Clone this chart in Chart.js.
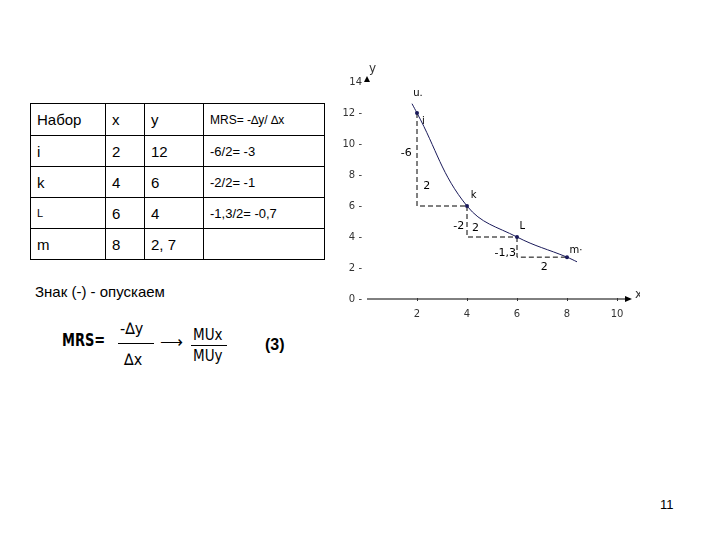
<!DOCTYPE html>
<html><head><meta charset="utf-8">
<script src="https://cdn.jsdelivr.net/npm/chart.js@4"></script>
<style>
body{margin:0;width:720px;height:540px;background:#fff;position:relative;font-family:"Liberation Sans",Arial,sans-serif;overflow:hidden}
table{position:absolute;left:30px;top:103px;border-collapse:collapse;font-size:15px}
td{border:1px solid #000;height:30px;padding:0 6px;}
.t{position:absolute;white-space:nowrap}
#cw{position:absolute;left:340px;top:50px;width:300px;height:270px}
</style></head><body>
<table id="tb"></table>
<div class="t" style="left:35px;top:283px;font-size:15px">Знак (-) - опускаем</div>
<div class="t" style="left:62px;top:330px;font-size:17px;font-weight:bold;font-family:'DejaVu Sans Condensed';transform:scaleX(0.85);transform-origin:left">MRS=</div>
<div class="t" style="left:120px;top:319px;font-size:16px;font-family:'DejaVu Sans Condensed'">-∆y</div>
<div class="t" style="left:124px;top:350px;font-size:16px;font-family:'DejaVu Sans Condensed'">∆x</div>
<div style="position:absolute;left:118px;top:343px;width:36px;border-top:1px solid #000"></div>
<div class="t" style="left:160px;top:332px;font-size:16px">⟶</div>
<div class="t" style="left:193px;top:326px;font-size:15px;font-family:'DejaVu Sans Condensed'">MUx</div>
<div class="t" style="left:193px;top:347px;font-size:15px;font-family:'DejaVu Sans Condensed'">MUy</div>
<div style="position:absolute;left:191px;top:345px;width:36px;border-top:1px solid #000"></div>
<div class="t" style="left:265px;top:336px;font-size:16px;font-weight:bold">(3)</div>
<div class="t" style="left:660px;top:497px;font-size:13px">11</div>
<div id="cw"><canvas id="c"></canvas></div>
<script>
const headers=["Набор","x","y","MRS= -∆y/ ∆x"];
const sets=["i","k","L","m"];
const xs=[2,4,6,8];
const ys=[12,6,4,2.7];
const mrs=["-6/2= -3","-2/2= -1","-1,3/2= -0,7",""];
const curveX=[1.8,2,4,6,8,8.4];
const curveY=[12.6,12,6,4,2.7,2.4];
const xTicks=[2,4,6,8,10];
const yTicks=[0,2,4,6,8,10,12,14];
const pointLabels=["u.","k","L","m·"];
const stepLabels=[["-6",1.35,9.2],["2",2.25,7.1],["-2",3.45,4.5],["2",4.2,4.4],["-1,3",5.1,2.8],["2",6.95,1.9]];
const tb=document.getElementById('tb');
let h='<tr>'+headers.map((v,i)=>`<td style="width:${[62,26,46,108][i]}px;height:31px;${i==3?'font-size:12px':''}">${v}</td>`).join('')+'</tr>';
sets.forEach((s,i)=>{h+=`<tr><td style="${s=='L'?'font-size:11px':''}">${s}</td><td>${xs[i]}</td><td>${String(ys[i]).replace('.',', ')}</td><td style="font-size:13px">${mrs[i]}</td></tr>`});
tb.innerHTML=h;
const dash=[];
for(let i=0;i<3;i++){dash.push({type:'line',data:[{x:xs[i],y:ys[i]},{x:xs[i],y:ys[i+1]},{x:xs[i+1],y:ys[i+1]}],borderColor:'#000',borderWidth:1,borderDash:[5,3],pointRadius:0,tension:0});}
const deco={id:'deco',afterDraw(c){const g=c.ctx,X=c.scales.x,Y=c.scales.y;g.save();g.strokeStyle='#000';g.fillStyle='#000';g.lineWidth=1;
const y0=Y.getPixelForValue(0);g.beginPath();g.moveTo(X.getPixelForValue(0),y0);g.lineTo(X.getPixelForValue(10.4),y0);g.stroke();
const xe=X.getPixelForValue(10.4);g.beginPath();g.moveTo(xe+5,y0);g.lineTo(xe-2,y0-3);g.lineTo(xe-2,y0+3);g.fill();
const x0=X.getPixelForValue(0),yt=Y.getPixelForValue(14);g.beginPath();g.moveTo(x0,yt-6);g.lineTo(x0-3,yt);g.lineTo(x0+3,yt);g.fill();
g.font='10px "DejaVu Sans"';g.fillStyle='#333';g.textAlign='center';
xTicks.forEach(v=>{g.fillText(v,X.getPixelForValue(v),y0+18);g.fillRect(X.getPixelForValue(v),y0-1,1,3)});
g.textAlign='right';yTicks.forEach(v=>{if(v!==14)g.fillText(v+' -',x0-5,Y.getPixelForValue(v)+3);else g.fillText(v,x0-5,Y.getPixelForValue(v)+3)});
g.textAlign='left';g.font='12px "DejaVu Sans"';g.fillText('y',x0+2,yt-10);g.fillText('x',xe+8,y0-1);
g.font='10px "DejaVu Sans"';g.fillStyle='#000';
const off=[[-0.15,1.1],[0.15,0.5],[0.1,0.5],[0.1,0.3]];
xs.forEach((v,i)=>g.fillText(pointLabels[i],X.getPixelForValue(v+off[i][0]),Y.getPixelForValue(ys[i]+off[i][1])));
g.fillText('i',X.getPixelForValue(2.2),Y.getPixelForValue(11.3));
g.font='11px "DejaVu Sans"';
stepLabels.forEach(s=>g.fillText(s[0],X.getPixelForValue(s[1]),Y.getPixelForValue(s[2])));
g.restore();}};
new Chart(document.getElementById('c'),{type:'line',data:{datasets:[
{data:curveX.map((v,i)=>({x:v,y:curveY[i]})),borderColor:'#1a1a5a',borderWidth:1,tension:0.4,pointRadius:0},
{data:xs.map((v,i)=>({x:v,y:ys[i]})),showLine:false,pointRadius:2,pointBackgroundColor:'#1a1a5a',pointBorderWidth:0},
...dash]},
options:{responsive:true,maintainAspectRatio:false,animation:false,layout:{padding:{left:27,right:23,top:32,bottom:21}},
plugins:{legend:{display:false},tooltip:{enabled:false}},
scales:{x:{type:'linear',min:0,max:10,display:false},y:{min:0,max:14,display:false}}},plugins:[deco]});
</script></body></html>
